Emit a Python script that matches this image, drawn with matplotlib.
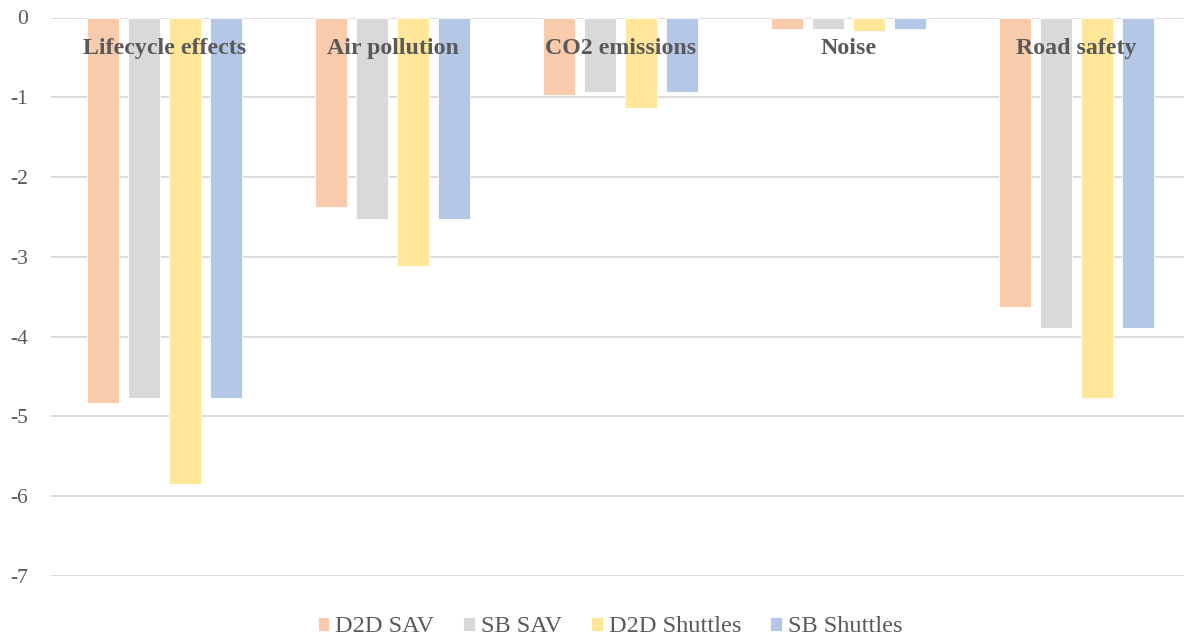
import matplotlib.pyplot as plt
import numpy as np

categories = ['Lifecycle effects', 'Air pollution', 'CO2 emissions', 'Noise', 'Road safety']
series_names = ['D2D SAV', 'SB SAV', 'D2D Shuttles', 'SB Shuttles']
d2d_sav = [-4.83, -2.37, -0.97, -0.14, -3.63]
sb_sav = [-4.77, -2.53, -0.93, -0.14, -3.89]
d2d_shuttles = [-5.85, -3.11, -1.13, -0.17, -4.77]
sb_shuttles = [-4.77, -2.53, -0.93, -0.14, -3.89]
yticks = [0, -1, -2, -3, -4, -5, -6, -7]

colors = ['#F8CBAD', '#D9D9D9', '#FFE699', '#B4C7E7']
text_grey = '#595959'

plt.rcParams['font.family'] = ['Liberation Serif', 'DejaVu Serif']

W, H = 1184, 637
fig = plt.figure(figsize=(W / 100, H / 100), dpi=100)
ax = fig.add_axes([50.5 / W, 1 - 576 / H, 1140 / W, (576 - 17.5) / H])

x = np.arange(len(categories))
step, width = 0.18, 0.14
all_series = [d2d_sav, sb_sav, d2d_shuttles, sb_shuttles]
for i, (vals, name) in enumerate(zip(all_series, series_names)):
    ax.bar(x + (i - 1.5) * step, vals, width, color=colors[i], label=name,
           edgecolor='white', linewidth=0.6, zorder=2)

ax.set_xlim(-0.5, len(categories) - 0.5)
ax.set_ylim(-7, 0)
ax.set_yticks(yticks)
ax.set_yticklabels([str(v) for v in yticks])
ax.yaxis.grid(True, color='#D9D9D9', linewidth=1.3, zorder=0)
ax.set_axisbelow(True)
ax.set_xticks([])
for sp in ax.spines.values():
    sp.set_visible(False)
ax.tick_params(axis='y', length=0, labelsize=15.5, labelcolor=text_grey, pad=16)

# category names sit inside the plot, just under the zero line
for xi, cat in zip(x, categories):
    ax.text(xi, -0.39, cat, ha='center', va='center', fontsize=17.2,
            fontweight='bold', color=text_grey, zorder=3)

leg = fig.legend(loc='center', bbox_to_anchor=(610 / W, 1 - 627 / H), ncol=4,
                 frameon=False, fontsize=17.5, handlelength=0.47, handleheight=0.47,
                 handletextpad=0.25, columnspacing=1.2)
for t in leg.get_texts():
    t.set_color(text_grey)

fig.savefig('out.png', dpi=100)
